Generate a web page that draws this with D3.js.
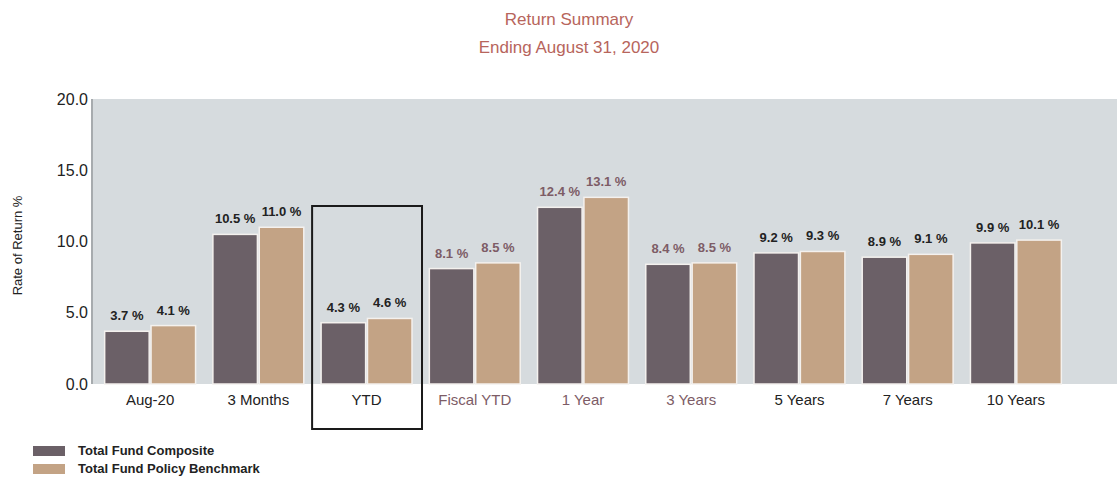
<!DOCTYPE html>
<html>
<head>
<meta charset="utf-8">
<script src="https://cdn.jsdelivr.net/npm/d3@7"></script>
<style>
  body { margin: 0; background: #fff; }
  text { font-family: "Liberation Sans", Arial, sans-serif; }
</style>
</head>
<body>
<svg id="chart" width="1117" height="482"></svg>
<script>
// data
var categories = ["Aug-20", "3 Months", "YTD", "Fiscal YTD", "1 Year", "3 Years", "5 Years", "7 Years", "10 Years"];
var composite = [3.7, 10.5, 4.3, 8.1, 12.4, 8.4, 9.2, 8.9, 9.9];
var benchmark = [4.1, 11.0, 4.6, 8.5, 13.1, 8.5, 9.3, 9.1, 10.1];
var seriesNames = ["Total Fund Composite", "Total Fund Policy Benchmark"];
var yTicks = [0, 5, 10, 15, 20];

var colors = ["#6b6067", "#c3a385"];
var mauve = ["Fiscal YTD", "1 Year", "3 Years"];   // scan shows these labels tinted

var svg = d3.select("#chart");
var plot = { left: 92, right: 1117, top: 99, bottom: 384 };

var x = d3.scaleBand()
    .domain(categories)
    .range([96, 1070])
    .paddingInner(0.16)
    .paddingOuter(0.08);

var xs = d3.scaleBand()
    .domain([0, 1])
    .range([0, x.bandwidth()])
    .paddingInner(0.04);

var y = d3.scaleLinear()
    .domain([0, 20])
    .range([plot.bottom, plot.top]);

// title
svg.append("text")
    .attr("x", 569).attr("y", 25)
    .attr("text-anchor", "middle")
    .attr("fill", "#b7655c")
    .style("font-size", "17px")
    .style("font-weight", "500")
    .text("Return Summary");
svg.append("text")
    .attr("x", 569).attr("y", 53)
    .attr("text-anchor", "middle")
    .attr("fill", "#b7655c")
    .style("font-size", "17px")
    .text("Ending August 31, 2020");

// plot background
svg.append("rect")
    .attr("x", plot.left).attr("y", plot.top)
    .attr("width", plot.right - plot.left)
    .attr("height", plot.bottom - plot.top)
    .attr("fill", "#d6dbde");
svg.append("line")
    .attr("x1", plot.left).attr("x2", plot.left)
    .attr("y1", plot.top).attr("y2", plot.bottom)
    .attr("stroke", "#a7abae").attr("stroke-width", 2);

// y axis
var yAxis = d3.axisLeft(y)
    .tickValues(yTicks)
    .tickSize(0)
    .tickPadding(4)
    .tickFormat(d3.format(".1f"));
var gy = svg.append("g")
    .attr("transform", "translate(" + plot.left + ",0)")
    .call(yAxis);
gy.select(".domain").remove();
gy.selectAll("text")
    .attr("fill", "#222")
    .style("font-size", "16px");

svg.append("text")
    .attr("transform", "translate(22," + ((plot.top + plot.bottom) / 2 + 4) + ") rotate(-90)")
    .attr("text-anchor", "middle")
    .attr("fill", "#222")
    .style("font-size", "13px")
    .text("Rate of Return %");

// x axis
var xAxis = d3.axisBottom(x).tickSize(0).tickPadding(10);
var gx = svg.append("g")
    .attr("transform", "translate(0," + plot.bottom + ")")
    .call(xAxis);
gx.select(".domain").remove();
gx.selectAll("text")
    .attr("fill", function(d) { return mauve.indexOf(d) >= 0 ? "#7d5c66" : "#222"; })
    .style("font-size", "15px");

// bars
var rows = categories.map(function(c, i) {
  return { cat: c, vals: [composite[i], benchmark[i]] };
});

var groups = svg.append("g").selectAll("g")
    .data(rows)
    .join("g")
    .attr("transform", function(d) { return "translate(" + x(d.cat) + ",0)"; });

groups.selectAll("rect")
    .data(function(d) { return d.vals.map(function(v, k) { return { k: k, v: v }; }); })
    .join("rect")
    .attr("x", function(d) { return xs(d.k); })
    .attr("y", function(d) { return y(d.v); })
    .attr("width", xs.bandwidth())
    .attr("height", function(d) { return y(0) - y(d.v); })
    .attr("fill", function(d) { return colors[d.k]; })
    .attr("stroke", "#f4f1ee")
    .attr("stroke-width", 1.5);

groups.selectAll("text.val")
    .data(function(d) { return d.vals.map(function(v, k) { return { k: k, v: v, cat: d.cat }; }); })
    .join("text")
    .attr("class", "val")
    .attr("x", function(d) { return xs(d.k) + xs.bandwidth() / 2; })
    .attr("y", function(d) { return y(d.v) - 11; })
    .attr("text-anchor", "middle")
    .attr("fill", function(d) { return mauve.indexOf(d.cat) >= 0 ? "#7d5c66" : "#222"; })
    .style("font-size", "13px")
    .style("font-weight", "bold")
    .text(function(d) { return d.v.toFixed(1) + " %"; });

// highlight box around YTD
var bx = x("YTD");
svg.append("rect")
    .attr("x", bx - 9).attr("y", 206)
    .attr("width", x.bandwidth() + 19)
    .attr("height", 223)
    .attr("fill", "none")
    .attr("stroke", "#1a1a1a")
    .attr("stroke-width", 2);

// legend
var legend = svg.append("g").attr("transform", "translate(33,446)");
var li = legend.selectAll("g")
    .data(seriesNames)
    .join("g")
    .attr("transform", function(d, i) { return "translate(0," + (i * 18) + ")"; });
li.append("rect")
    .attr("width", 32).attr("height", 10)
    .attr("fill", function(d, i) { return colors[i]; });
li.append("text")
    .attr("x", 45).attr("y", 9)
    .attr("fill", "#222")
    .style("font-size", "13px")
    .style("font-weight", "bold")
    .text(function(d) { return d; });
</script>
</body>
</html>
